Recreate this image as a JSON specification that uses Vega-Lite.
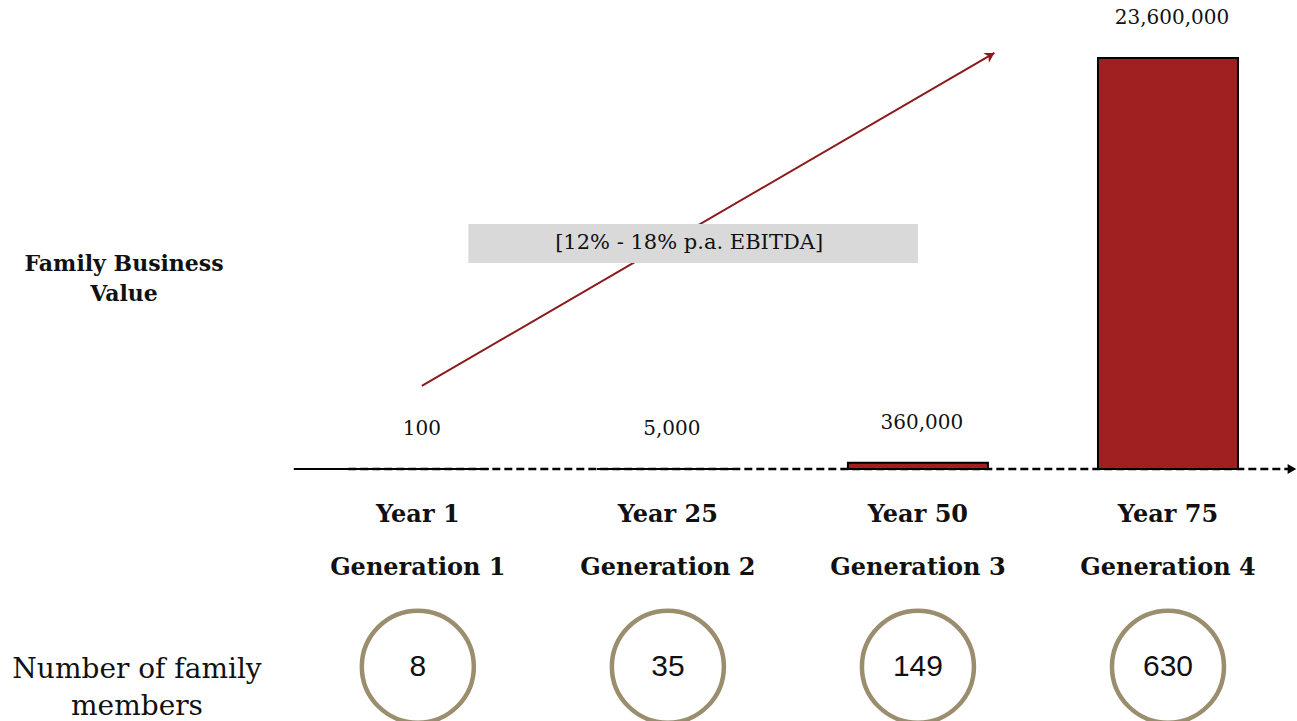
{
  "$schema": "https://vega.github.io/schema/vega-lite/v6.json",
  "width": 1297,
  "height": 721,
  "autosize": {"type": "none"},
  "padding": 0,
  "background": "white",
  "config": {"view": {"stroke": null}},
  "datasets": {
    "bars": [
      {"slot": 1, "period": "Year 1", "generation": "Generation 1", "value": 100, "members": 8},
      {"slot": 2, "period": "Year 25", "generation": "Generation 2", "value": 5000, "members": 35},
      {"slot": 3, "period": "Year 50", "generation": "Generation 3", "value": 360000, "members": 149},
      {"slot": 4, "period": "Year 75", "generation": "Generation 4", "value": 23600000, "members": 630}
    ],
    "axisSolid": [{"slot": 0.504, "value": 0}, {"slot": 0.722, "value": 0}],
    "axisDashed": [{"slot": 0.722, "value": 0}, {"slot": 4.49, "value": 0}],
    "growth": [{"slot": 1.016, "value": 4770000}, {"slot": 3.306, "value": 23890000}],
    "growthEnd": [{"slot": 3.306, "value": 23890000}],
    "axisEnd": [{"slot": 4.49, "value": 0}],
    "box": [{"slot": 1.202, "slot2": 3.0, "value": 14070000, "value2": 11830000, "label": "[12% - 18% p.a. EBITDA]"}]
  },
  "layer": [
    {
      "data": {"name": "axisSolid"},
      "mark": {"type": "line", "color": "black", "strokeWidth": 2},
      "encoding": {
        "x": {"field": "slot", "type": "quantitative", "scale": {"domain": [-0.651, 4.496], "nice": false, "zero": false}, "axis": null},
        "y": {"field": "value", "type": "quantitative", "scale": {"domain": [-14470000, 26930000], "nice": false, "zero": false}, "axis": null}
      }
    },
    {
      "data": {"name": "axisDashed"},
      "mark": {"type": "line", "color": "black", "strokeWidth": 2.5, "strokeDash": [8, 4]},
      "encoding": {
        "x": {"field": "slot", "type": "quantitative", "scale": {"domain": [-0.651, 4.496], "nice": false, "zero": false}, "axis": null},
        "y": {"field": "value", "type": "quantitative", "scale": {"domain": [-14470000, 26930000], "nice": false, "zero": false}, "axis": null}
      }
    },
    {
      "data": {"name": "axisEnd"},
      "mark": {"type": "point", "shape": "triangle", "filled": true, "color": "black", "size": 100, "angle": 90, "opacity": 1},
      "encoding": {
        "x": {"field": "slot", "type": "quantitative", "scale": {"domain": [-0.651, 4.496], "nice": false, "zero": false}, "axis": null},
        "y": {"field": "value", "type": "quantitative", "scale": {"domain": [-14470000, 26930000], "nice": false, "zero": false}, "axis": null}
      }
    },
    {
      "data": {"name": "growth"},
      "mark": {"type": "line", "color": "#8b1a1a", "strokeWidth": 2},
      "encoding": {
        "x": {"field": "slot", "type": "quantitative", "scale": {"domain": [-0.651, 4.496], "nice": false, "zero": false}, "axis": null},
        "y": {"field": "value", "type": "quantitative", "scale": {"domain": [-14470000, 26930000], "nice": false, "zero": false}, "axis": null}
      }
    },
    {
      "data": {"name": "growthEnd"},
      "mark": {"type": "point", "shape": "M0,0 L-0.7,1.2 L0,0.85 L0.7,1.2 Z", "filled": true, "color": "#8b1a1a", "size": 260, "angle": 60, "opacity": 1},
      "encoding": {
        "x": {"field": "slot", "type": "quantitative", "scale": {"domain": [-0.651, 4.496], "nice": false, "zero": false}, "axis": null},
        "y": {"field": "value", "type": "quantitative", "scale": {"domain": [-14470000, 26930000], "nice": false, "zero": false}, "axis": null}
      }
    },
    {
      "data": {"name": "box"},
      "mark": {"type": "rect", "color": "#d9d9d9"},
      "encoding": {
        "x": {"field": "slot", "type": "quantitative", "scale": {"domain": [-0.651, 4.496], "nice": false, "zero": false}, "axis": null},
        "x2": {"field": "slot2"},
        "y": {"field": "value", "type": "quantitative", "scale": {"domain": [-14470000, 26930000], "nice": false, "zero": false}, "axis": null},
        "y2": {"field": "value2"}
      }
    },
    {
      "data": {"name": "box"},
      "mark": {"type": "text", "font": "DejaVu Serif", "fontSize": 21, "color": "#111", "align": "center", "baseline": "middle", "dx": -4},
      "encoding": {
        "x": {"datum": 2.101, "type": "quantitative", "scale": {"domain": [-0.651, 4.496], "nice": false, "zero": false}, "axis": null},
        "y": {"datum": 12950000, "type": "quantitative", "scale": {"domain": [-14470000, 26930000], "nice": false, "zero": false}, "axis": null},
        "text": {"field": "label"}
      }
    },
    {
      "data": {"name": "bars"},
      "mark": {"type": "bar", "width": 140, "fill": "#a01f20", "stroke": "black", "strokeWidth": 2},
      "encoding": {
        "x": {"field": "slot", "type": "quantitative", "scale": {"domain": [-0.651, 4.496], "nice": false, "zero": false}, "axis": null},
        "y": {"field": "value", "type": "quantitative", "scale": {"domain": [-14470000, 26930000], "nice": false, "zero": false}, "axis": null},
        "y2": {"datum": 0}
      }
    },
    {
      "data": {"name": "bars"},
      "mark": {"type": "text", "font": "DejaVu Serif", "fontSize": 20, "color": "#111", "align": "center", "baseline": "middle", "dy": -40, "dx": 4},
      "encoding": {
        "x": {"field": "slot", "type": "quantitative", "scale": {"domain": [-0.651, 4.496], "nice": false, "zero": false}, "axis": null},
        "y": {"field": "value", "type": "quantitative", "scale": {"domain": [-14470000, 26930000], "nice": false, "zero": false}, "axis": null},
        "text": {"field": "value", "type": "quantitative", "format": ","}
      }
    },
    {
      "data": {"name": "bars"},
      "mark": {"type": "text", "font": "DejaVu Serif", "fontSize": 24, "fontWeight": "bold", "color": "#111", "align": "center", "baseline": "middle"},
      "encoding": {
        "x": {"field": "slot", "type": "quantitative", "scale": {"domain": [-0.651, 4.496], "nice": false, "zero": false}, "axis": null},
        "y": {"datum": -2640000, "type": "quantitative", "scale": {"domain": [-14470000, 26930000], "nice": false, "zero": false}, "axis": null},
        "text": {"field": "period"}
      }
    },
    {
      "data": {"name": "bars"},
      "mark": {"type": "text", "font": "DejaVu Serif", "fontSize": 24, "fontWeight": "bold", "color": "#111", "align": "center", "baseline": "middle"},
      "encoding": {
        "x": {"field": "slot", "type": "quantitative", "scale": {"domain": [-0.651, 4.496], "nice": false, "zero": false}, "axis": null},
        "y": {"datum": -5685000, "type": "quantitative", "scale": {"domain": [-14470000, 26930000], "nice": false, "zero": false}, "axis": null},
        "text": {"field": "generation"}
      }
    },
    {
      "data": {"name": "bars"},
      "mark": {"type": "point", "shape": "circle", "filled": false, "stroke": "#9b8e6e", "strokeWidth": 4.5, "size": 12544, "opacity": 1},
      "encoding": {
        "x": {"field": "slot", "type": "quantitative", "scale": {"domain": [-0.651, 4.496], "nice": false, "zero": false}, "axis": null},
        "y": {"datum": -11350000, "type": "quantitative", "scale": {"domain": [-14470000, 26930000], "nice": false, "zero": false}, "axis": null}
      }
    },
    {
      "data": {"name": "bars"},
      "mark": {"type": "text", "font": "Liberation Sans", "fontSize": 30, "color": "#111", "align": "center", "baseline": "middle"},
      "encoding": {
        "x": {"field": "slot", "type": "quantitative", "scale": {"domain": [-0.651, 4.496], "nice": false, "zero": false}, "axis": null},
        "y": {"datum": -11350000, "type": "quantitative", "scale": {"domain": [-14470000, 26930000], "nice": false, "zero": false}, "axis": null},
        "text": {"field": "members"}
      }
    },
    {
      "data": {"values": [{"label": ["Family Business", "Value"]}]},
      "mark": {"type": "text", "font": "DejaVu Serif", "fontSize": 22, "fontWeight": "bold", "color": "#111", "align": "center", "baseline": "middle", "lineHeight": 30},
      "encoding": {
        "x": {"datum": -0.175, "type": "quantitative", "scale": {"domain": [-0.651, 4.496], "nice": false, "zero": false}, "axis": null},
        "y": {"datum": 11770000, "type": "quantitative", "scale": {"domain": [-14470000, 26930000], "nice": false, "zero": false}, "axis": null},
        "text": {"field": "label"}
      }
    },
    {
      "data": {"values": [{"label": ["Number of family", "members"]}]},
      "mark": {"type": "text", "font": "DejaVu Serif", "fontSize": 28, "color": "#111", "align": "center", "baseline": "middle", "lineHeight": 37},
      "encoding": {
        "x": {"datum": -0.123, "type": "quantitative", "scale": {"domain": [-0.651, 4.496], "nice": false, "zero": false}, "axis": null},
        "y": {"datum": -11540000, "type": "quantitative", "scale": {"domain": [-14470000, 26930000], "nice": false, "zero": false}, "axis": null},
        "text": {"field": "label"}
      }
    }
  ]
}
